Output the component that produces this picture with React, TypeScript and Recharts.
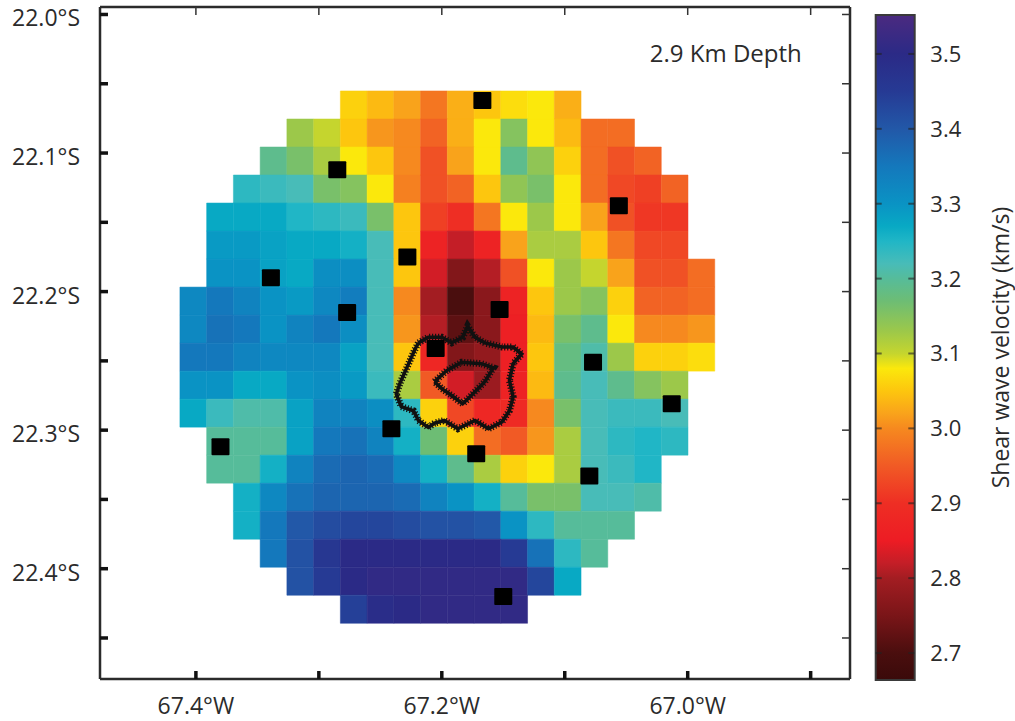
import {
  Bar,
  BarChart,
  ReferenceArea,
  ReferenceDot,
  Scatter,
  ScatterChart,
  XAxis,
  YAxis,
} from "recharts";

const FONT = "'Open Sans', sans-serif";
const INK = "#2b2b2b";

// velocity -> colour
const stopValues = [2.664, 2.7, 2.75, 2.8, 2.82, 2.85, 2.9, 2.95, 3.0, 3.02, 3.05, 3.08, 3.1, 3.13, 3.17, 3.2, 3.22, 3.25, 3.27, 3.3, 3.35, 3.4, 3.45, 3.5, 3.552];
const stopColors = ["#3a0a0a", "#4a0e0e", "#7a1518", "#a31d22", "#c41e27", "#ed1c24", "#ee2e24", "#f15a25", "#f6891f", "#f9a31b", "#fdc60e", "#fbe80c", "#c5d52e", "#9cc84a", "#6dbd74", "#56bc9a", "#48bcb8", "#20b6c6", "#08a9c4", "#0a93c4", "#1478bc", "#2258a8", "#263a94", "#2b2a86", "#4b2a80"];

// grid: first column of every row, then the velocities in km/s
const rowStarts = [6, 4, 3, 2, 1, 1, 1, 0, 0, 0, 0, 0, 1, 1, 2, 2, 3, 4, 6];
const row00 = [3.06, 3.04, 3.02, 2.98, 3.03, 3.05, 3.07, 3.08, 3.03];
const row01 = [3.13, 3.1, 3.05, 3.01, 3.0, 2.96, 3.03, 3.08, 3.15, 3.08, 3.04, 2.97, 2.97];
const row02 = [3.19, 3.16, 3.12, 3.08, 3.05, 3.0, 2.94, 3.02, 3.08, 3.19, 3.14, 3.06, 2.97, 2.94, 2.96];
const row03 = [3.24, 3.23, 3.22, 3.16, 3.15, 3.08, 2.99, 2.94, 2.96, 3.05, 3.14, 3.16, 3.08, 2.97, 2.93, 2.92, 2.96];
const row04 = [3.27, 3.27, 3.27, 3.25, 3.24, 3.23, 3.16, 3.05, 2.92, 2.9, 2.98, 3.08, 3.13, 3.08, 3.02, 2.94, 2.91, 2.91];
const row05 = [3.29, 3.29, 3.28, 3.27, 3.27, 3.26, 3.22, 3.05, 2.87, 2.82, 2.87, 3.02, 3.12, 3.12, 3.05, 2.98, 2.93, 2.93];
const row06 = [3.3, 3.3, 3.28, 3.27, 3.31, 3.31, 3.22, 3.05, 2.83, 2.76, 2.81, 2.94, 3.08, 3.13, 3.1, 3.02, 2.94, 2.94, 2.97];
const row07 = [3.32, 3.35, 3.33, 3.3, 3.29, 3.32, 3.34, 3.22, 3.0, 2.8, 2.7, 2.77, 2.87, 3.05, 3.13, 3.15, 3.06, 2.96, 2.96, 2.97];
const row08 = [3.32, 3.36, 3.35, 3.3, 3.33, 3.35, 3.31, 3.22, 3.01, 2.81, 2.72, 2.77, 2.86, 3.04, 3.16, 3.19, 3.08, 3.0, 3.0, 3.01];
const row09 = [3.35, 3.35, 3.33, 3.32, 3.32, 3.32, 3.28, 3.22, 3.05, 2.88, 2.76, 2.78, 2.86, 3.05, 3.18, 3.21, 3.13, 3.06, 3.06, 3.07];
const row10 = [3.3, 3.3, 3.27, 3.27, 3.3, 3.31, 3.29, 3.23, 3.12, 2.95, 2.83, 2.79, 2.87, 3.04, 3.19, 3.22, 3.19, 3.15, 3.13];
const row11 = [3.27, 3.23, 3.21, 3.21, 3.28, 3.33, 3.33, 3.31, 3.24, 3.06, 2.93, 2.88, 2.89, 3.0, 3.16, 3.22, 3.23, 3.23, 3.22];
const row12 = [3.2, 3.2, 3.2, 3.28, 3.35, 3.36, 3.33, 3.26, 3.17, 3.06, 2.97, 2.95, 3.01, 3.12, 3.22, 3.24, 3.25, 3.24];
const row13 = [3.2, 3.2, 3.26, 3.33, 3.37, 3.38, 3.37, 3.32, 3.26, 3.19, 3.12, 3.06, 3.08, 3.12, 3.22, 3.23, 3.25];
const row14 = [3.26, 3.32, 3.36, 3.38, 3.38, 3.38, 3.37, 3.33, 3.3, 3.26, 3.2, 3.16, 3.16, 3.22, 3.22, 3.21];
const row15 = [3.26, 3.35, 3.4, 3.42, 3.43, 3.43, 3.42, 3.41, 3.41, 3.4, 3.3, 3.24, 3.2, 3.2, 3.2];
const row16 = [3.35, 3.41, 3.46, 3.5, 3.5, 3.5, 3.5, 3.5, 3.5, 3.45, 3.36, 3.24, 3.2];
const row17 = [3.41, 3.45, 3.5, 3.51, 3.51, 3.51, 3.51, 3.51, 3.51, 3.43, 3.27];
const row18 = [3.44, 3.49, 3.5, 3.51, 3.51, 3.51, 3.51];
const rows = [row00, row01, row02, row03, row04, row05, row06, row07, row08, row09, row10, row11, row12, row13, row14, row15, row16, row17, row18];

const gridWest = -67.413;
const gridNorth = -22.0552;
const cellLon = 0.02175;
const cellLat = 0.02022;

const stationLon = [-67.167, -67.285, -67.056, -67.228, -67.339, -67.277, -67.153, -67.205, -67.077, -67.013, -67.241, -67.38, -67.172, -67.08, -67.15];
const stationLat = [-22.062, -22.112, -22.138, -22.175, -22.19, -22.215, -22.213, -22.241, -22.251, -22.281, -22.299, -22.312, -22.317, -22.333, -22.42];

const outerLon = [-67.219, -67.211, -67.2, -67.192, -67.183, -67.179, -67.173, -67.165, -67.151, -67.142, -67.135, -67.142, -67.145, -67.142, -67.145, -67.151, -67.162, -67.173, -67.187, -67.198, -67.206, -67.211, -67.219, -67.223, -67.233, -67.237, -67.234, -67.227, -67.222, -67.219];
const outerLat = [-22.237, -22.233, -22.233, -22.237, -22.233, -22.225, -22.233, -22.237, -22.24, -22.24, -22.245, -22.252, -22.264, -22.276, -22.286, -22.294, -22.299, -22.293, -22.299, -22.293, -22.295, -22.298, -22.293, -22.286, -22.283, -22.274, -22.266, -22.252, -22.242, -22.237];
const innerLon = [-67.206, -67.196, -67.184, -67.168, -67.158, -67.165, -67.176, -67.183, -67.192, -67.2, -67.206];
const innerLat = [-22.265, -22.257, -22.251, -22.252, -22.255, -22.265, -22.275, -22.281, -22.275, -22.27, -22.265];

const lonTicks = [-67.4, -67.3, -67.2, -67.1, -67.0, -66.9];
const latTicks = [-22.0, -22.05, -22.1, -22.15, -22.2, -22.25, -22.3, -22.35, -22.4, -22.45];
const velocityTicks = [2.7, 2.8, 2.9, 3.0, 3.1, 3.2, 3.3, 3.4, 3.5];

const lonDomain = [-67.478, -66.868];
const latDomain = [-22.4796, -21.9946];
const velocityDomain = [2.664, 3.552];

function hexToRgb(hex: string) {
  return [1, 3, 5].map((i) => parseInt(hex.slice(i, i + 2), 16));
}

function velocityColor(v: number) {
  let i = 0;
  while (i < stopValues.length - 2 && v > stopValues[i + 1]) i++;
  const t = Math.min(1, Math.max(0, (v - stopValues[i]) / (stopValues[i + 1] - stopValues[i])));
  const a = hexToRgb(stopColors[i]);
  const b = hexToRgb(stopColors[i + 1]);
  return `rgb(${a.map((c, k) => Math.round(c + (b[k] - c) * t)).join(",")})`;
}

const cells = rows.flatMap((row, r) =>
  row.map((v, k) => {
    const col = rowStarts[r] + k;
    return {
      key: `${r}-${col}`,
      x1: gridWest + col * cellLon,
      x2: gridWest + (col + 1) * cellLon,
      y1: gridNorth - r * cellLat,
      y2: gridNorth - (r + 1) * cellLat,
      fill: velocityColor(v),
    };
  })
);

const stations = stationLon.map((lon, i) => ({ lon, lat: stationLat[i] }));
const outerRim = outerLon.map((lon, i) => ({ lon, lat: outerLat[i] }));
const innerRim = innerLon.map((lon, i) => ({ lon, lat: innerLat[i] }));
const barData = [{ name: "v", range: velocityDomain }];

const tickText = { fontFamily: FONT, fontSize: 22, fill: INK };
const axisText = { fontFamily: FONT, fontSize: 23, fill: INK };

function LonTick({ x, y, payload }: any) {
  const labelled = Math.round(Math.abs(payload.value) * 10) % 2 === 0;
  return (
    <g>
      <line x1={x} x2={x} y1={y} y2={y - 8} stroke="#111" strokeWidth={3.5} />
      {labelled && (
        <text x={x} y={y + 35} textAnchor="middle" {...axisText}>
          {Math.abs(payload.value).toFixed(1)}°W
        </text>
      )}
    </g>
  );
}

function TopTick({ x, y }: any) {
  return <line x1={x} x2={x} y1={y} y2={y + 8} stroke="#333" strokeWidth={1.5} />;
}

function LatTick({ x, y, payload }: any) {
  const labelled = Math.round(Math.abs(payload.value) * 100) % 10 === 0;
  return (
    <g>
      <line x1={x} x2={x + 8} y1={y} y2={y} stroke="#111" strokeWidth={3.5} />
      {labelled && (
        <text x={x - 20} y={y + 12} textAnchor="end" {...axisText}>
          {Math.abs(payload.value).toFixed(1)}°S
        </text>
      )}
    </g>
  );
}

function InnerRightTick({ x, y }: any) {
  return <line x1={x} x2={x - 8} y1={y} y2={y} stroke="#333" strokeWidth={1.5} />;
}

function VelocityTick({ x, y, payload }: any) {
  return (
    <g>
      <line x1={x} x2={x - 6} y1={y} y2={y} stroke="#222" strokeOpacity={0.6} strokeWidth={2} />
      <line x1={x - 38.6} x2={x - 32.6} y1={y} y2={y} stroke="#222" strokeOpacity={0.6} strokeWidth={2} />
      <text x={x + 16} y={y + 8} textAnchor="start" {...tickText}>
        {payload.value.toFixed(1)}
      </text>
    </g>
  );
}

const noPoint = () => <g />;
const stationMark = ({ cx, cy }: any) => <rect x={cx - 9} y={cy - 8.5} width={18} height={17} rx={1} fill="#000" />;
const rimCore = { stroke: "#111", strokeWidth: 3.5 };
const rimFuzz = { stroke: "#111", strokeWidth: 7, strokeDasharray: "1.2 1.8" };

export default function App() {
  return (
    <div style={{ position: "absolute", left: 0, top: 0, width: 1015, height: 721, background: "#fff" }}>
      <div style={{ position: "absolute", left: 0, top: 0 }}>
        <ScatterChart width={870} height={721} margin={{ top: 6, right: 19, bottom: 0, left: 0 }}>
          <XAxis
            type="number"
            dataKey="lon"
            domain={lonDomain}
            ticks={lonTicks}
            interval={0}
            height={42}
            tickSize={0}
            tickMargin={0}
            tick={<LonTick />}
            axisLine={{ stroke: INK, strokeWidth: 2.5 }}
            allowDataOverflow
          />
          <XAxis
            xAxisId="top"
            orientation="top"
            type="number"
            dataKey="lon"
            domain={lonDomain}
            ticks={lonTicks}
            interval={0}
            height={1}
            tickSize={0}
            tickMargin={0}
            tick={<TopTick />}
            axisLine={{ stroke: INK, strokeWidth: 2.5 }}
            allowDataOverflow
          />
          <YAxis
            type="number"
            dataKey="lat"
            domain={latDomain}
            ticks={latTicks}
            interval={0}
            width={100}
            tickSize={0}
            tickMargin={0}
            tick={<LatTick />}
            axisLine={{ stroke: INK, strokeWidth: 2.5 }}
            allowDataOverflow
          />
          <YAxis
            yAxisId="right"
            orientation="right"
            type="number"
            dataKey="lat"
            domain={latDomain}
            ticks={latTicks}
            interval={0}
            width={1}
            tickSize={0}
            tickMargin={0}
            tick={<InnerRightTick />}
            axisLine={{ stroke: INK, strokeWidth: 2.5 }}
            allowDataOverflow
          />
          {cells.map((c) => (
            <ReferenceArea
              key={c.key}
              x1={c.x1}
              x2={c.x2}
              y1={c.y1}
              y2={c.y2}
              fill={c.fill}
              fillOpacity={1}
              stroke={c.fill}
              strokeWidth={0.5}
            />
          ))}
          <Scatter data={outerRim} line={rimCore} shape={noPoint} isAnimationActive={false} />
          <Scatter data={outerRim} line={rimFuzz} shape={noPoint} isAnimationActive={false} />
          <Scatter data={innerRim} line={rimCore} shape={noPoint} isAnimationActive={false} />
          <Scatter data={innerRim} line={rimFuzz} shape={noPoint} isAnimationActive={false} />
          <Scatter data={stations} shape={stationMark} isAnimationActive={false} />
          <ReferenceDot
            x={-66.969}
            y={-22.028}
            r={0}
            fill="none"
            stroke="none"
            label={{ value: "2.9 Km Depth", position: "center", fontFamily: FONT, fontSize: 24, fill: INK }}
          />
        </ScatterChart>
      </div>
      <div style={{ position: "absolute", left: 870, top: 0 }}>
        <BarChart
          width={145}
          height={721}
          data={barData}
          barCategoryGap={0}
          margin={{ top: 15, right: 0, bottom: 41, left: 5.7 }}
        >
          <defs>
            <linearGradient id="velocityRamp" x1="0" y1="1" x2="0" y2="0">
              {stopValues.map((v, i) => (
                <stop
                  key={v}
                  offset={(v - velocityDomain[0]) / (velocityDomain[1] - velocityDomain[0])}
                  stopColor={stopColors[i]}
                />
              ))}
            </linearGradient>
          </defs>
          <XAxis dataKey="name" hide />
          <YAxis
            orientation="right"
            type="number"
            domain={velocityDomain}
            ticks={velocityTicks}
            interval={0}
            width={100.7}
            tickSize={0}
            tickMargin={0}
            tick={<VelocityTick />}
            axisLine={false}
            label={{
              value: "Shear wave velocity (km/s)",
              angle: -90,
              position: "insideRight",
              offset: 14,
              style: { fontFamily: FONT, fontSize: 23, fill: INK, textAnchor: "middle" },
            }}
          />
          <Bar dataKey="range" fill="url(#velocityRamp)" stroke="#3a3a3a" strokeWidth={2} isAnimationActive={false} />
          <ReferenceArea y1={2.664} y2={2.672} fill="#8a8a8a" fillOpacity={1} stroke="#3a3a3a" strokeWidth={1} />
        </BarChart>
      </div>
    </div>
  );
}
